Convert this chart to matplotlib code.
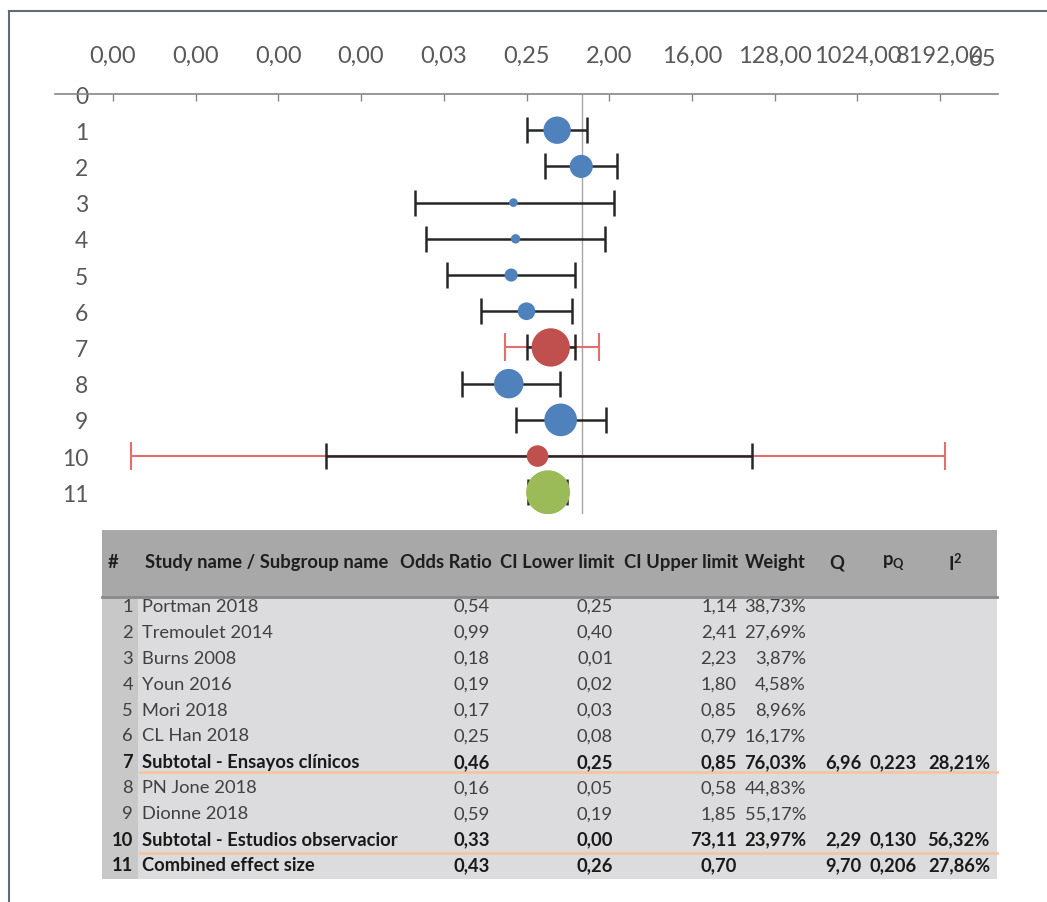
import numpy as np
import matplotlib
matplotlib.use('Agg')
import matplotlib.pyplot as plt
from matplotlib.patches import Rectangle
from matplotlib.ticker import NullLocator

plt.rcParams['font.family'] = ['Lato', 'DejaVu Sans']
plt.rcParams['mathtext.fontset'] = 'custom'
plt.rcParams['mathtext.rm'] = 'Lato'
plt.rcParams['mathtext.bf'] = 'Lato:bold'

# --- table data ---
row_no = list(range(1, 12))
names = ['Portman 2018', 'Tremoulet 2014', 'Burns 2008', 'Youn 2016', 'Mori 2018',
         'CL Han 2018', 'Subtotal - Ensayos clínicos', 'PN Jone 2018', 'Dionne 2018',
         'Subtotal - Estudios observacior', 'Combined effect size']
odds = [0.54, 0.99, 0.18, 0.19, 0.17, 0.25, 0.46, 0.16, 0.59, 0.33, 0.43]
ci_low = [0.25, 0.40, 0.01, 0.02, 0.03, 0.08, 0.25, 0.05, 0.19, 0.00, 0.26]
ci_up = [1.14, 2.41, 2.23, 1.80, 0.85, 0.79, 0.85, 0.58, 1.85, 73.11, 0.70]
weight = [38.73, 27.69, 3.87, 4.58, 8.96, 16.17, 76.03, 44.83, 55.17, 23.97, None]
q_val = [None] * 6 + [6.96, None, None, 2.29, 9.70]
p_q = [None] * 6 + [0.223, None, None, 0.130, 0.206]
i2 = [None] * 6 + [28.21, None, None, 56.32, 27.86]
bold_rows = [7, 10, 11]

# --- plotted intervals (less rounded than the table) ---
plot_low = [0.25, 0.40, 0.015, 0.02, 0.034, 0.08, 0.25, 0.05, 0.19, 0.0016, 0.26]
plot_up = [1.14, 2.41, 2.23, 1.80, 0.85, 0.79, 0.85, 0.58, 1.85, 73.11, 0.70]
pred_rows = [7, 10]
pred_low = [0.145, 1.2e-5]
pred_up = [1.55, 9300]
bubble = [38.73, 27.69, 3.87, 4.58, 8.96, 16.17, 76.03, 44.83, 55.17, 23.97, 100]
colors = ['#4F81BD'] * 6 + ['#C0504D'] + ['#4F81BD'] * 2 + ['#C0504D', '#9BBB59']

W, H = 1047, 903
fig = plt.figure(figsize=(W / 100, H / 100), dpi=100)


def px(x0, y0, x1, y1):
    return [x0 / W, 1 - y1 / H, (x1 - x0) / W, (y1 - y0) / H]


# background layer in pixel coordinates (frame + table)
tx = fig.add_axes([0, 0, 1, 1], zorder=0)
tx.set_xlim(0, W)
tx.set_ylim(H, 0)
tx.axis('off')

# forest plot
ax = fig.add_axes(px(55, 95, 998, 515), zorder=1)
ax.set_facecolor('none')
ax.set_xscale('log', base=2)
ax.set_xlim(2 ** -19.1, 2 ** 15.1)
ax.set_ylim(11.6, 0)

y = np.array(row_no)
od = np.array(odds)

for r, lo, up in zip(pred_rows, pred_low, pred_up):
    o = odds[r - 1]
    ax.errorbar(o, r, xerr=[[o - lo], [up - o]], fmt='none', ecolor='#E07070',
                elinewidth=1.5, capsize=10, capthick=1.5, zorder=2)

ax.errorbar(od, y, xerr=[od - np.array(plot_low), np.array(plot_up) - od], fmt='none',
            ecolor='#262626', elinewidth=1.8, capsize=9.5, capthick=1.8, zorder=3)

r_px = 22 * np.sqrt(np.array(bubble) / 100)
ax.scatter(od, y, s=(2 * r_px * 0.72) ** 2, c=colors, linewidths=0, zorder=4)
ax.axvline(1, color='#a6a6a6', lw=1, zorder=1)

ticks = 2.0 ** np.arange(-17, 14, 3)
ax.set_xticks(ticks)
ax.set_xticklabels([f'{t:.2f}'.replace('.', ',') for t in ticks])
ax.xaxis.set_minor_locator(NullLocator())
ax.xaxis.tick_top()
ax.tick_params(axis='x', direction='in', length=5, width=1, color='#868686',
               pad=20, labelsize=17, labelcolor='#595959')
fig.text(996 / W, 1 - 59 / H, '65', ha='right', va='center', fontsize=17, color='#595959')

ax.set_yticks(range(0, 12))
ax.tick_params(axis='y', length=0, pad=-24, labelsize=16.5, labelcolor='#595959')
for s in ['left', 'right', 'bottom']:
    ax.spines[s].set_visible(False)
ax.spines['top'].set_color('#868686')
ax.spines['top'].set_linewidth(1.2)

# outer frame
tx.plot([9, W], [12, 12], color='#5f6b78', lw=1.5)
tx.plot([9, 9], [12, H], color='#5f6b78', lw=1.5)

# table
tx.add_patch(Rectangle((102, 531), 895, 67, fc='#a8a8a8', ec='none'))
tx.add_patch(Rectangle((102, 598), 895, 282, fc='#dcdcde', ec='none'))
tx.add_patch(Rectangle((102, 598), 36, 282, fc='#c8c8c8', ec='none'))
tx.plot([102, 997], [598, 598], color='#8a8a8a', lw=2)

fs = 13.2
hy = 563
hdr = dict(fontsize=fs, fontweight='bold', color='#1e1e1e', va='center')
tx.text(113, hy, '#', ha='center', **hdr)
tx.text(145, hy, 'Study name / Subgroup name', ha='left', **hdr)
tx.text(492, hy, 'Odds Ratio', ha='right', **hdr)
tx.text(615, hy, 'CI Lower limit', ha='right', **hdr)
tx.text(738, hy, 'CI Upper limit', ha='right', **hdr)
tx.text(806, hy, 'Weight', ha='right', **hdr)
tx.text(837, hy, 'Q', ha='center', **hdr)
tx.text(893, hy, r'$\mathbf{p_Q}$', ha='center', **hdr)
tx.text(955, hy, r'$\mathbf{I^2}$', ha='center', **hdr)


def fmt(v, d=2, pct=False):
    if v is None:
        return ''
    s = f'{v:.{d}f}'.replace('.', ',')
    return s + '%' if pct else s


for i, n in enumerate(row_no):
    ry = 607 + 25.9 * i
    b = n in bold_rows
    kw = dict(fontsize=fs, va='center', fontweight='bold' if b else 'normal',
              color='#1a1a1a' if b else '#404040')
    tx.text(133, ry, str(n), ha='right', **kw)
    tx.text(142, ry, names[i], ha='left', **kw)
    tx.text(490, ry, fmt(odds[i]), ha='right', **kw)
    tx.text(613, ry, fmt(ci_low[i]), ha='right', **kw)
    tx.text(737, ry, fmt(ci_up[i]), ha='right', **kw)
    tx.text(806, ry, fmt(weight[i], pct=True), ha='right', **kw)
    tx.text(862, ry, fmt(q_val[i]), ha='right', **kw)
    tx.text(917, ry, fmt(p_q[i], 3), ha='right', **kw)
    tx.text(990, ry, fmt(i2[i], pct=True), ha='right', **kw)

for ly in [773, 854]:
    tx.plot([140, 997], [ly, ly], color='#f2c6a4', lw=2)

fig.savefig('out.png', dpi=100)
